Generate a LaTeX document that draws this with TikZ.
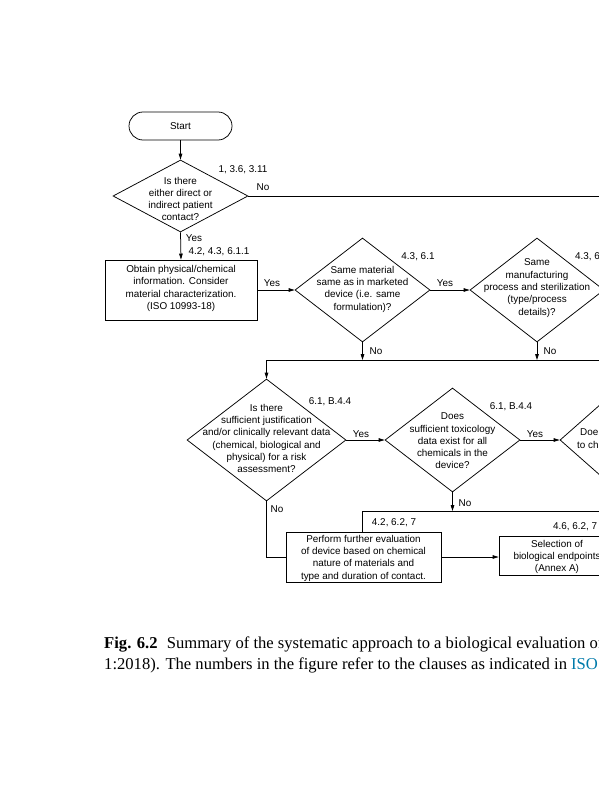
\documentclass[tikz,border=0pt]{standalone}
\usepackage{fontspec}
\setmainfont{Liberation Serif}
\newfontfamily\flowfont{Liberation Sans}
\usetikzlibrary{shapes.geometric,shapes.misc,arrows.meta}
\definecolor{isoblue}{RGB}{0,122,170}
\begin{document}
\begin{tikzpicture}[x=1pt,y=-1pt,
  every node/.style={font=\flowfont\fontsize{9.9}{12.3}\selectfont, inner sep=0pt},
  dia/.style={draw, diamond, line width=0.75pt, aspect=1},
  box/.style={draw, rectangle, line width=0.75pt, align=center},
  txt/.style={align=center},
  conn/.style={line width=0.75pt},
  arr/.style={conn, -{Triangle[length=6pt,width=3.6pt]}},
  capfont/.style={font=\rmfamily\fontsize{16.6}{21}\selectfont}
]
\useasboundingbox (0,0) rectangle (599,800);
\clip (0,0) rectangle (599,800);

% shapes
\node[draw, rounded rectangle, line width=0.75pt, minimum width=103pt, minimum height=28pt] (start) at (180.5,126) {Start};

\node[dia, minimum width=135pt, minimum height=72pt] (d1) at (180.5,196) {};
\node[txt] (d1t) at (180.5,199) {Is there\\either direct or\\indirect patient\\contact?};

\node[box, minimum width=152pt, minimum height=60pt] (b1) at (181,290) {};
\node[txt] (b1t) at (181,288.5) {Obtain physical/chemical\\information. Consider\\material characterization.\\(ISO 10993-18)};

\node[dia, minimum width=135pt, minimum height=104pt] (d2) at (362.5,290) {};
\node[txt] (d2t) at (362.5,289) {Same material\\same as in marketed\\device (i.e. same\\formulation)?};

\node[dia, minimum width=134pt, minimum height=104pt] (d3) at (537,290) {};
\node[txt] (d3t) at (537,288) {Same\\manufacturing\\process and sterilization\\(type/process\\details)?};

\node[dia, minimum width=159pt, minimum height=122pt] (d4) at (266.5,440) {};
\node[txt] (d4t) at (266.5,438.5) {Is there\\sufficient justification\\and/or clinically relevant data\\(chemical, biological and\\physical) for a risk\\assessment?};

\node[dia, minimum width=135pt, minimum height=104pt] (d5) at (452.5,440) {};
\node[txt] (d5t) at (452.5,441) {Does\\sufficient toxicology\\data exist for all\\chemicals in the\\device?};

\node[dia, minimum width=136pt, minimum height=120pt] (d6) at (628,440) {};
\node[anchor=base west] (d6a) at (580,435.5) {Doe};
\node[anchor=base west] (d6b) at (577,448.5) {to ch};

\node[box, minimum width=155pt, minimum height=50pt] (b2) at (363.5,557) {};
\node[txt] (b2t) at (363.5,558) {Perform further evaluation\\of device based on chemical\\nature of materials and\\type and duration of contact.};

\node[box, minimum width=116pt, minimum height=39pt] (b3) at (557,555.5) {};
\node[txt] (b3t) at (557,557) {Selection of\\biological endpoints\\(Annex A)};

% labels
\node (l1) at (243,170) {1, 3.6, 3.11};
\node (l2) at (263,187) {No};
\node (l3) at (194,238) {Yes};
\node (l4) at (219,252) {4.2, 4.3, 6.1.1};
\node (l5) at (272,283) {Yes};
\node (l6) at (418,257) {4.3, 6.1};
\node (l7) at (445,283) {Yes};
\node[anchor=west] (l8) at (575,257) {4.3, 6.1};
\node (l9) at (376,351) {No};
\node (l10) at (550,351) {No};
\node (l11) at (330,402) {6.1, B.4.4};
\node (l12) at (361,434) {Yes};
\node (l13) at (511,407) {6.1, B.4.4};
\node (l14) at (535,434) {Yes};
\node (l15) at (277,509) {No};
\node (l16) at (465,503) {No};
\node (l17) at (394,523) {4.2, 6.2, 7};
\node[anchor=west] (l18) at (553,527) {4.6, 6.2, 7};

% connectors
\coordinate (e1) at (620,196);
\coordinate (j1) at (266.5,360);
\coordinate (e2) at (620,360);
\coordinate (j2) at (362,511);
\coordinate (e3) at (620,511);

\draw[arr] (start.south) -- (d1.north);
\draw[conn] (d1.east) -- (e1);
\draw[arr] (d1.south) -- (b1.north);
\draw[arr] (b1.east) -- (d2.west);
\draw[arr] (d2.east) -- (d3.west);
\draw[conn] (j1) -- (e2);
\draw[arr] (d2.south) -- (d2.south |- j1);
\draw[arr] (d3.south) -- (d3.south |- j1);
\draw[arr] (j1) -- (d4.north);
\draw[arr] (d4.east) -- (d5.west);
\draw[arr] (d5.east) -- (d6.west);
\draw[conn] (j2) -- (e3);
\draw[arr] (d5.south) -- (d5.south |- j2);
\draw[conn] (j2) -- (j2 |- b2.north);
\draw[conn] (d4.south) |- (b2.west);
\draw[arr] (b2.east) -- (b2.east -| b3.west);

% caption
\node[capfont, anchor=base west] (cap1) at (104,648) {\textbf{Fig. 6.2}\hspace{0.55em}Summary of the systematic approach to a biological evaluation of medical};
\node[capfont, anchor=base west] (cap2) at (104,669) {1:2018). The numbers in the figure refer to the clauses as indicated in \textcolor{isoblue}{ISO}};
\end{tikzpicture}
\end{document}
